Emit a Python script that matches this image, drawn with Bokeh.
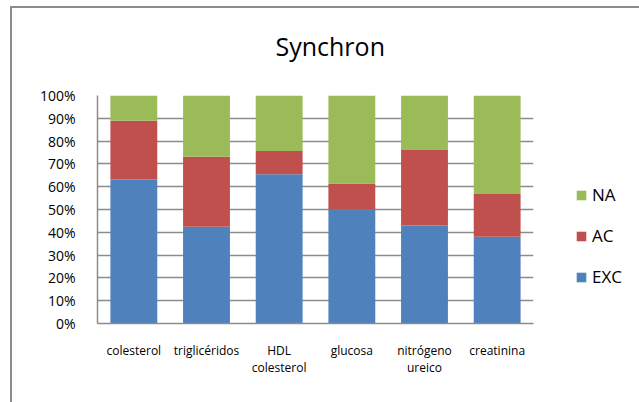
from bokeh.plotting import figure
from bokeh.models import FactorRange, FixedTicker, NumeralTickFormatter, Legend, LegendItem, ColumnDataSource
from bokeh.embed import file_html
from bokeh.resources import INLINE

categories = ["colesterol", "triglicéridos", "HDL\ncolesterol", "glucosa", "nitrógeno\nureico", "creatinina"]
exc = [0.632, 0.424, 0.655, 0.500, 0.430, 0.380]
ac = [0.257, 0.307, 0.102, 0.114, 0.331, 0.188]
na = [0.111, 0.269, 0.243, 0.386, 0.239, 0.432]
series = ["EXC", "AC", "NA"]
colors = ["#4F81BD", "#C0504D", "#9BBB59"]
yticks = [i / 10 for i in range(11)]

source = ColumnDataSource(dict(cat=categories, EXC=exc, AC=ac, NA=na))

FONT = "Open Sans"

p = figure(x_range=FactorRange(*categories, range_padding=0), y_range=(0, 1),
           frame_width=436, frame_height=228, output_backend="svg", toolbar_location=None,
           min_border_left=97, min_border_right=90, min_border_top=95, min_border_bottom=81,
           title="Synchron")
p.margin = (-3, 0, 0, 0)
p.border_fill_alpha = 0
p.styles = {
    "background": ("linear-gradient(#8c8c8c, #8c8c8c) 10px 9px / 700px 2px no-repeat, "
                   "linear-gradient(#8c8c8c, #8c8c8c) 10px 9px / 2px 500px no-repeat"),
}

renderers = p.vbar_stack(series, x="cat", width=0.645, color=colors, source=source,
                         line_color=None)

p.outline_line_color = None
p.xgrid.grid_line_color = None
p.ygrid.grid_line_color = "#8c8c8c"
p.ygrid.grid_line_width = 1.5

p.yaxis.ticker = FixedTicker(ticks=yticks)
p.yaxis.formatter = NumeralTickFormatter(format="0%")
p.yaxis.major_tick_line_color = None
p.yaxis.minor_tick_line_color = None
p.yaxis.axis_line_color = "#8c8c8c"
p.yaxis.axis_line_width = 1.5
p.yaxis.major_label_text_font = FONT
p.yaxis.major_label_text_font_size = "14px"
p.yaxis.major_label_text_color = "#000000"
p.yaxis.major_label_standoff = 16

p.xaxis.major_tick_line_color = None
p.xaxis.minor_tick_line_color = None
p.xaxis.axis_line_color = "#8c8c8c"
p.xaxis.axis_line_width = 1.5
p.xaxis.major_label_text_font = FONT
p.xaxis.major_label_text_font_size = "12px"
p.xaxis.major_label_text_color = "#000000"
p.xaxis.major_label_text_line_height = 1.05
p.xaxis.major_label_standoff = 12

p.title.text_font = FONT
p.title.text_font_size = "25px"
p.title.text_font_style = "normal"
p.title.text_color = "#000000"
p.title.align = "left"
p.title.offset = 178
p.title.vertical_align = "top"
p.title.standoff = 62

legend = Legend(items=[LegendItem(label=s, renderers=[r]) for s, r in reversed(list(zip(series, renderers)))],
                location=(42, 35), orientation="vertical",
                glyph_width=12, glyph_height=12, label_height=12, spacing=18,
                label_standoff=5, padding=0, margin=0,
                border_line_color=None, background_fill_alpha=0,
                label_text_font=FONT, label_text_font_size="17px", label_text_color="#000000")
p.add_layout(legend, "right")

open("out.html", "w").write(file_html(p, INLINE))
